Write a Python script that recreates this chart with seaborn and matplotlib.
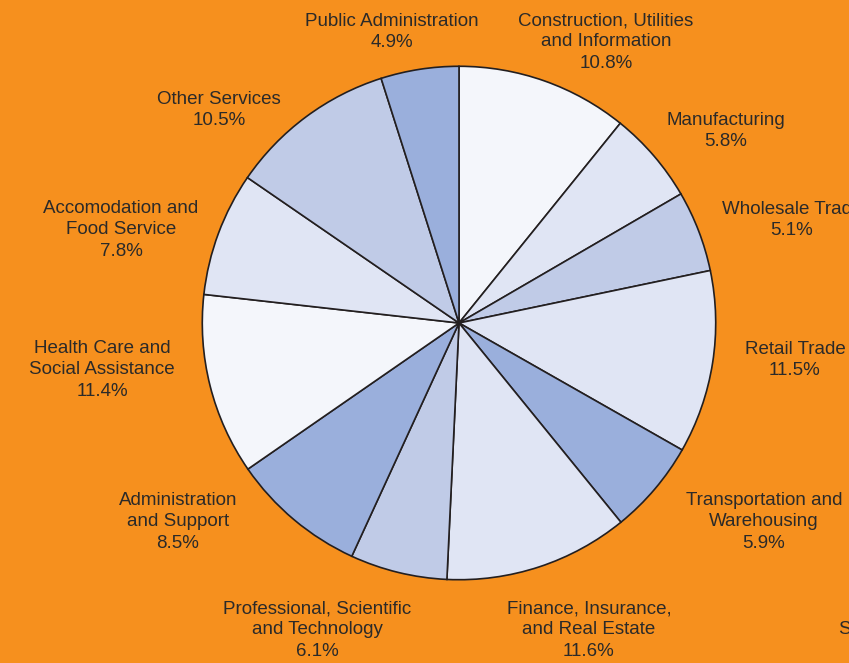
import matplotlib
matplotlib.use("Agg")
import matplotlib.pyplot as plt
import seaborn as sns

# industry shares, clockwise from 12 o'clock
industries = [
    "Construction, Utilities\nand Information",
    "Manufacturing",
    "Wholesale Trade",
    "Retail Trade",
    "Transportation and\nWarehousing",
    "Finance, Insurance,\nand Real Estate",
    "Professional, Scientific\nand Technology",
    "Administration\nand Support",
    "Health Care and\nSocial Assistance",
    "Accomodation and\nFood Service",
    "Other Services",
    "Public Administration",
]
shares = [10.8, 5.8, 5.1, 11.5, 5.9, 11.6, 6.1, 8.5, 11.4, 7.8, 10.5, 4.9]

BG = "#f6901e"
TXT = "#2b2a29"
shade = {"vlight": "#f4f6fb", "light": "#e0e5f4", "mid": "#c0cbe7", "dark": "#9aafdc"}
slice_shades = ["vlight", "light", "mid", "light", "dark", "light",
                "mid", "dark", "vlight", "light", "mid", "dark"]

# label centres in pixels of the 849x663 canvas (layout only)
label_px = [(606, 42), (726, 131), (792, 220), (795, 360), (764, 522),
            (589, 630), (317, 630), (178, 522), (102, 370), (121, 230),
            (219, 110), (392, 32)]

sns.set_theme(style="white")
plt.rcParams["font.family"] = ["Liberation Sans", "DejaVu Sans"]

W, H = 849, 663
cx, cy, r = 459, 323, 258
fig = plt.figure(figsize=(W / 100, H / 100), dpi=100, facecolor=BG)
ax = fig.add_axes([(cx - r) / W, (H - cy - r) / H, 2 * r / W, 2 * r / H])
ax.set_facecolor(BG)

ax.pie(shares, startangle=90, counterclock=False, radius=1,
       colors=[shade[s] for s in slice_shades],
       wedgeprops=dict(edgecolor="#231f20", linewidth=1.2))
ax.set_xlim(-1.005, 1.005)
ax.set_ylim(-1.005, 1.005)
ax.set_aspect("equal")
ax.axis("off")

for name, val, (px, py) in zip(industries, shares, label_px):
    fig.text(px / W, 1 - py / H, f"{name}\n{val:.1f}%", ha="center", va="center",
             fontsize=13.5, color=TXT, linespacing=1.31)

fig.text(838 / W, 1 - 630 / H, "Source", ha="left", va="center",
         fontsize=13.5, color=TXT)

fig.savefig("out.png", dpi=100, facecolor=BG)
